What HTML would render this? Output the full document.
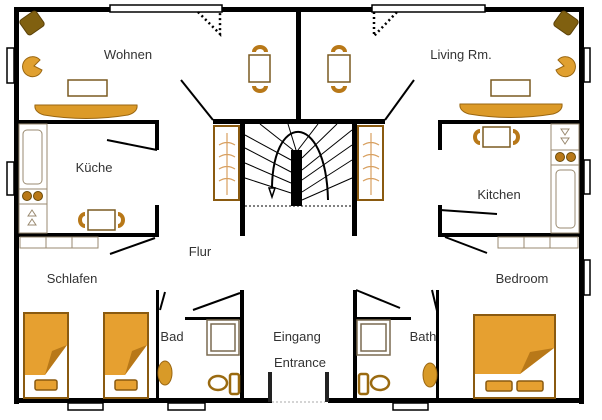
<!DOCTYPE html>
<html><head><meta charset="utf-8"><style>
html,body{margin:0;padding:0;background:#fff;}
svg{display:block;}
text{font-family:"Liberation Sans",sans-serif;font-size:13px;fill:#333;}
</style></head><body>
<svg width="602" height="420" viewBox="0 0 602 420" xmlns="http://www.w3.org/2000/svg">
<defs>
<g id="bed1">
 <rect x="0" y="0" width="44" height="85" fill="#fff" stroke="#8a5a10" stroke-width="2"/>
 <path d="M1,1 H43 V32 L21,62 H1 Z" fill="#e6a030"/>
 <path d="M43,32 L21,62 L28,38 Z" fill="#b87818"/>
 <rect x="11" y="67" width="22" height="10" rx="2" fill="#e6a030" stroke="#8a5a10" stroke-width="1.5"/>
</g>
</defs>
<g fill="#000">
 <rect x="14" y="7" width="570" height="5"/>
 <rect x="14" y="7" width="5" height="397"/>
 <rect x="579" y="7" width="5" height="397"/>
 <rect x="14" y="398" width="258" height="5"/>
 <rect x="328" y="398" width="256" height="5"/>
 <rect x="296" y="7" width="5" height="117"/>
 <rect x="18" y="120" width="140" height="4"/>
 <rect x="155" y="120" width="4" height="30"/>
 <rect x="213" y="119" width="172" height="5"/>
 <rect x="438" y="120" width="142" height="4"/>
 <rect x="438" y="120" width="4" height="30"/>
 <rect x="240" y="119" width="5" height="117"/>
 <rect x="352" y="119" width="5" height="117"/>
 <rect x="155" y="205" width="4" height="31"/>
 <rect x="18" y="233" width="141" height="4"/>
 <rect x="438" y="205" width="4" height="31"/>
 <rect x="438" y="233" width="142" height="4"/>
 <rect x="156" y="290" width="3" height="110"/>
 <rect x="240" y="290" width="4" height="110"/>
 <rect x="185" y="317" width="57" height="3"/>
 <rect x="353" y="290" width="4" height="110"/>
 <rect x="436" y="290" width="3" height="110"/>
 <rect x="356" y="317" width="55" height="3"/>
 <rect x="268" y="372" width="4" height="30" fill="#222"/>
 <rect x="325" y="372" width="4" height="30" fill="#222"/>
 <rect x="291" y="150" width="11" height="56"/>
</g>
<g fill="#fff" stroke="#000" stroke-width="1.5">
 <rect x="110" y="5" width="112" height="7"/>
 <rect x="372" y="5" width="113" height="7"/>
 <rect x="7" y="48" width="7" height="35"/>
 <rect x="7" y="162" width="7" height="33"/>
 <rect x="584" y="48" width="6" height="34"/>
 <rect x="584" y="160" width="6" height="34"/>
 <rect x="584" y="260" width="6" height="35"/>
 <rect x="68" y="403" width="35" height="7"/>
 <rect x="168" y="403" width="37" height="7"/>
 <rect x="393" y="403" width="35" height="7"/>
</g>
<g stroke="#000" stroke-width="2.5" stroke-dasharray="2,3" fill="none">
 <path d="M198,12 L220,34 L220,12"/>
 <path d="M374,12 L374,36 L397,12"/>
 <path d="M245,206 H352" stroke-width="1" stroke-dasharray="2,2"/>
 <path d="M272,402 H325" stroke-width="1" stroke="#aaa" stroke-dasharray="2,2"/>
</g>
<g stroke="#000" stroke-width="2" fill="none">
 <line x1="181" y1="80" x2="213" y2="120"/>
 <line x1="414" y1="80" x2="385" y2="120"/>
 <line x1="107" y1="140" x2="157" y2="150"/>
 <line x1="110" y1="254" x2="155" y2="238"/>
 <line x1="440" y1="210" x2="497" y2="214"/>
 <line x1="445" y1="237" x2="487" y2="253"/>
 <line x1="165" y1="292" x2="160" y2="310"/>
 <line x1="193" y1="310" x2="240" y2="293"/>
 <line x1="356" y1="290" x2="400" y2="308"/>
 <line x1="432" y1="290" x2="438" y2="315"/>
</g>
<g stroke="#000" stroke-width="1" fill="none">
 <line x1="245" y1="135" x2="291" y2="160"/>
 <line x1="245" y1="148" x2="291" y2="172"/>
 <line x1="245" y1="163" x2="291" y2="183"/>
 <line x1="245" y1="178" x2="291" y2="193"/>
 <line x1="260" y1="124" x2="293" y2="150"/>
 <line x1="288" y1="124" x2="296" y2="150"/>
 <line x1="318" y1="124" x2="298" y2="150"/>
 <line x1="337" y1="124" x2="302" y2="158"/>
 <line x1="352" y1="130" x2="302" y2="170"/>
 <line x1="352" y1="145" x2="302" y2="180"/>
 <line x1="352" y1="160" x2="302" y2="192"/>
 <line x1="352" y1="178" x2="302" y2="200"/>
 <path d="M272,195 C270,110 326,110 328,200" stroke-width="2"/>
 <path d="M269,188 L272,197 L275,188 Z" fill="#fff" stroke-width="1.5"/>
</g>
<g fill="#fff" stroke="#8a5a10" stroke-width="2">
 <rect x="214" y="126" width="25" height="74"/>
 <rect x="358" y="126" width="25" height="74"/>
</g>
<g stroke="#d8a060" stroke-width="1.2" fill="none">
 <path d="M227,133 V195 M219,145 Q227,140 235,145 M219,157 Q227,152 235,157 M219,169 Q227,164 235,169 M219,181 Q227,176 235,181"/>
 <path d="M371,133 V195 M363,145 Q371,140 379,145 M363,157 Q371,152 379,157 M363,169 Q371,164 379,169 M363,181 Q371,176 379,181"/>
</g>
<g>
 <rect x="22" y="14" width="20" height="18" rx="3" fill="#806010" stroke="#5a4008" transform="rotate(-35 32 23)"/>
 <rect x="556" y="14" width="20" height="18" rx="3" fill="#806010" stroke="#5a4008" transform="rotate(35 566 23)"/>
 <path d="M35,105 H137 Q138,112 128,115 Q86,122 44,115 Q34,112 35,105 Z" fill="#dc9a28" stroke="#9a6610"/>
 <path d="M460,104 H562 Q563,111 553,114 Q511,121 469,114 Q459,111 460,104 Z" fill="#dc9a28" stroke="#9a6610"/>
 <rect x="68" y="80" width="39" height="16" fill="#fff" stroke="#7a5a20" stroke-width="1.5"/>
 <rect x="491" y="80" width="39" height="16" fill="#fff" stroke="#7a5a20" stroke-width="1.5"/>
 <path d="M40,60 A10,10 0 1 0 42,70 L34,66 Z" fill="#e0a030" stroke="#9a6610"/>
 <path d="M558,60 A10,10 0 1 1 556,70 L564,66 Z" fill="#e0a030" stroke="#9a6610"/>
 <rect x="249" y="55" width="21" height="27" fill="#fff" stroke="#7a5a20" stroke-width="1.5"/>
 <rect x="328" y="55" width="22" height="27" fill="#fff" stroke="#7a5a20" stroke-width="1.5"/>
 <rect x="88" y="210" width="27" height="20" fill="#fff" stroke="#7a5a20" stroke-width="1.5"/>
 <rect x="483" y="127" width="27" height="20" fill="#fff" stroke="#7a5a20" stroke-width="1.5"/>
</g>
<g fill="#b87818">
 <path d="M252,52 A8,7 0 0 1 268,52 L264,52 A4,3 0 0 0 256,52 Z"/>
 <path d="M252,86 A8,7 0 0 0 268,86 L264,86 A4,3 0 0 1 256,86 Z"/>
 <path d="M331,52 A8,7 0 0 1 347,52 L343,52 A4,3 0 0 0 335,52 Z"/>
 <path d="M331,86 A8,7 0 0 0 347,86 L343,86 A4,3 0 0 1 335,86 Z"/>
 <path d="M85,212 A7,8 0 0 0 85,228 L85,224 A3,4 0 0 1 85,216 Z"/>
 <path d="M118,212 A7,8 0 0 1 118,228 L118,224 A3,4 0 0 0 118,216 Z"/>
 <path d="M480,129 A7,8 0 0 0 480,145 L480,141 A3,4 0 0 1 480,133 Z"/>
 <path d="M513,129 A7,8 0 0 1 513,145 L513,141 A3,4 0 0 0 513,133 Z"/>
</g>
<g fill="#fff" stroke="#9a8a70" stroke-width="1">
 <rect x="19" y="124" width="28" height="109"/>
 <rect x="23" y="130" width="19" height="54" rx="4"/>
 <rect x="19" y="189" width="28" height="15"/>
 <rect x="551" y="124" width="28" height="109"/>
 <rect x="556" y="170" width="19" height="58" rx="4"/>
 <rect x="551" y="150" width="28" height="15"/>
 <rect x="20" y="237" width="26" height="11"/><rect x="46" y="237" width="26" height="11"/><rect x="72" y="237" width="26" height="11"/>
 <rect x="498" y="237" width="26" height="11"/><rect x="524" y="237" width="26" height="11"/><rect x="550" y="237" width="28" height="11"/>
 <path d="M28,216 L32,210 L36,216 Z M28,225 L32,219 L36,225 Z"/>
 <path d="M561,129 L565,135 L569,129 Z M561,138 L565,144 L569,138 Z"/>
</g>
<g fill="#b87818" stroke="#6a4a08" stroke-width="1">
 <circle cx="27" cy="196" r="4.5"/><circle cx="38" cy="196" r="4.5"/>
 <circle cx="560" cy="157" r="4.5"/><circle cx="571" cy="157" r="4.5"/>
</g>
<use href="#bed1" x="24" y="313"/>
<use href="#bed1" x="104" y="313"/>
<g>
 <rect x="474" y="315" width="81" height="83" fill="#fff" stroke="#8a5a10" stroke-width="2"/>
 <path d="M475,316 H554 V348 L520,374 H475 Z" fill="#e6a030"/>
 <path d="M554,348 L520,374 L530,352 Z" fill="#b87818"/>
 <rect x="486" y="381" width="26" height="10" rx="2" fill="#e6a030" stroke="#8a5a10" stroke-width="1.5"/>
 <rect x="517" y="381" width="26" height="10" rx="2" fill="#e6a030" stroke="#8a5a10" stroke-width="1.5"/>
</g>
<g fill="#fff" stroke="#7a6a50" stroke-width="1.5">
 <rect x="207" y="320" width="32" height="35"/>
 <rect x="211" y="324" width="24" height="27"/>
 <rect x="357" y="320" width="33" height="35"/>
 <rect x="361" y="324" width="25" height="27"/>
</g>
<g fill="#fff" stroke="#9a6a10" stroke-width="2.5">
 <ellipse cx="218" cy="383" rx="9" ry="7"/>
 <rect x="230" y="374" width="9" height="20" rx="2"/>
 <ellipse cx="380" cy="383" rx="9" ry="7"/>
 <rect x="359" y="374" width="9" height="20" rx="2"/>
</g>
<ellipse cx="165" cy="373" rx="7" ry="12" fill="#d89a28" stroke="#9a6610"/>
<ellipse cx="430" cy="375" rx="7" ry="12" fill="#d89a28" stroke="#9a6610"/>
<text x="128" y="59" text-anchor="middle">Wohnen</text>
<text x="461" y="59" text-anchor="middle">Living Rm.</text>
<text x="94" y="172" text-anchor="middle">Küche</text>
<text x="499" y="199" text-anchor="middle">Kitchen</text>
<text x="200" y="256" text-anchor="middle">Flur</text>
<text x="72" y="283" text-anchor="middle">Schlafen</text>
<text x="522" y="283" text-anchor="middle">Bedroom</text>
<text x="172" y="341" text-anchor="middle">Bad</text>
<text x="423" y="341" text-anchor="middle">Bath</text>
<text x="297" y="341" text-anchor="middle">Eingang</text>
<text x="300" y="367" text-anchor="middle">Entrance</text>
</svg>
</body></html>
